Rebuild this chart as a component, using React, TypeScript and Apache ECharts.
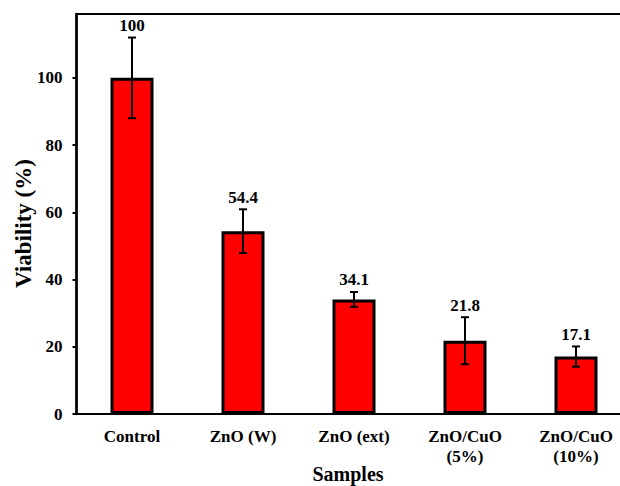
import React, { useEffect, useRef } from "react";
import * as echarts from "echarts";

const categories = ["Control", "ZnO (W)", "ZnO (ext)", "ZnO/CuO\n(5%)", "ZnO/CuO\n(10%)"];
const viability = [100, 54.4, 34.1, 21.8, 17.1];
const errors = [12, 6.5, 2.2, 7, 3];
const yTicks = [0, 20, 40, 60, 80, 100];

const FONT = "'Liberation Serif', 'Times New Roman', serif";

export default function App() {
  const ref = useRef<HTMLDivElement>(null);
  useEffect(() => {
    if (!ref.current) return;
    document.body.style.margin = "0";
    const chart = echarts.init(ref.current, undefined, { renderer: "svg" });
    const errData = viability.map((v, i) => [i, v - errors[i], v + errors[i], v]);
    chart.setOption({
      animation: false,
      backgroundColor: "#ffffff",
      textStyle: { fontFamily: FONT },
      grid: {
        left: 76.5,
        top: 14,
        bottom: 72,
        right: -11.5,
        show: true,
        borderColor: "#000",
        borderWidth: 2,
        containLabel: false,
        outerBoundsMode: "none",
      },
      xAxis: {
        type: "category",
        data: categories,
        name: "Samples",
        nameLocation: "middle",
        nameGap: 50,
        nameMoveOverlap: false,
        nameTextStyle: {
          fontFamily: FONT,
          fontWeight: "bold",
          fontSize: 20,
          color: "#000",
          padding: [0, 12, 0, 0],
        },
        axisLine: { lineStyle: { color: "#000", width: 2 } },
        axisTick: { show: false },
        axisLabel: {
          fontFamily: FONT,
          fontWeight: "bold",
          fontSize: 17,
          color: "#000",
          margin: 12,
          lineHeight: 20,
          interval: 0,
          hideOverlap: false,
        },
      },
      yAxis: {
        type: "value",
        min: 0,
        max: 119,
        interval: 20,
        name: "Viability (%)",
        nameLocation: "middle",
        nameGap: 42,
        nameMoveOverlap: false,
        nameRotate: 90,
        nameTextStyle: {
          fontFamily: FONT,
          fontWeight: "bold",
          fontSize: 23,
          color: "#000",
          padding: [0, 19, 0, 0],
        },
        axisLine: { show: true, lineStyle: { color: "#000", width: 2.5 } },
        axisTick: { show: true, length: 4, lineStyle: { color: "#000", width: 2 } },
        splitLine: { show: false },
        axisLabel: {
          fontFamily: FONT,
          fontWeight: "bold",
          fontSize: 17,
          color: "#000",
          margin: 14,
          showMaxLabel: false,
          formatter: (v: number) => (yTicks.includes(v) ? String(v) : ""),
        },
      },
      series: [
        {
          type: "bar",
          data: viability,
          barWidth: 43,
          itemStyle: { color: "#ff0000", borderColor: "#000", borderWidth: 3 },
        },
        {
          type: "custom",
          data: errData,
          z: 10,
          renderItem: (params: any, api: any) => {
            const i = api.value(0);
            const lo = api.coord([i, api.value(1)]);
            const hi = api.coord([i, api.value(2)]);
            const x = lo[0];
            const cap = 4;
            const style = { stroke: "#000", lineWidth: 2 };
            return {
              type: "group",
              children: [
                { type: "line", shape: { x1: x, y1: lo[1], x2: x, y2: hi[1] }, style },
                { type: "line", shape: { x1: x - cap, y1: lo[1], x2: x + cap, y2: lo[1] }, style },
                { type: "line", shape: { x1: x - cap, y1: hi[1], x2: x + cap, y2: hi[1] }, style },
                {
                  type: "text",
                  style: {
                    text: String(api.value(3)),
                    x: x,
                    y: hi[1] - 12,
                    align: "center",
                    verticalAlign: "middle",
                    fontFamily: FONT,
                    fontWeight: "bold",
                    fontSize: 17,
                    fill: "#000",
                  },
                },
              ],
            };
          },
        },
      ],
    });
    return () => chart.dispose();
  }, []);
  return (
    <div
      ref={ref}
      style={{ position: "absolute", left: 0, top: 0, width: 620, height: 486 }}
    />
  );
}
